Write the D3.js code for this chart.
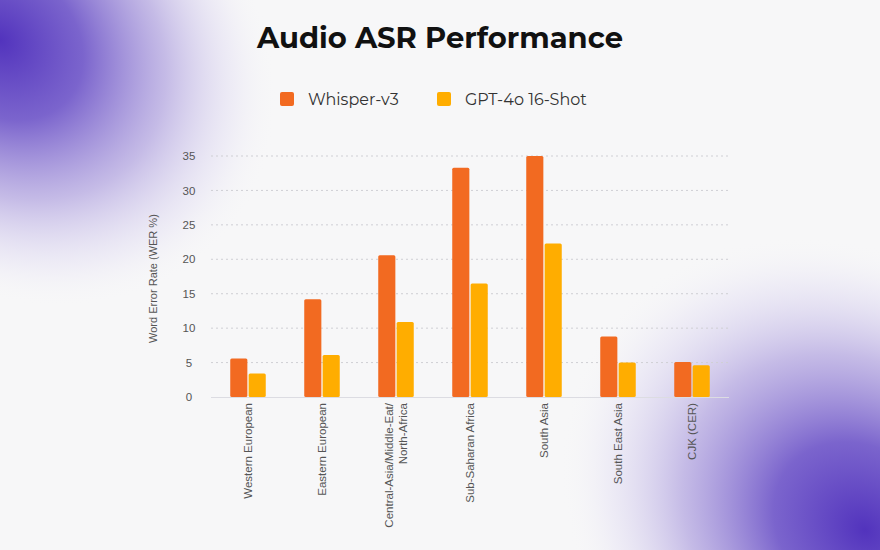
<!DOCTYPE html>
<html>
<head>
<meta charset="utf-8">
<script src="https://cdn.jsdelivr.net/npm/d3@7"></script>
<style>
  body { margin: 0; background: #f7f7f8; }
  svg { display: block; }
</style>
</head>
<body>
<div id="chart"></div>
<script>
// data
var regions = ["Western European", "Eastern European", "Central-Asia/Middle-Eat/\nNorth-Africa",
               "Sub-Saharan Africa", "South Asia", "South East Asia", "CJK (CER)"];
var seriesNames = ["Whisper-v3", "GPT-4o 16-Shot"];
var whisperValues = [5.6, 14.2, 20.6, 33.3, 35.0, 8.8, 5.1];
var gptValues = [3.4, 6.1, 10.9, 16.5, 22.3, 5.0, 4.6];
var yTicks = [0, 5, 10, 15, 20, 25, 30, 35];

var seriesColors = ["#f26a21", "#ffad00"];

var W = 880, H = 550;
var margin = {top: 156, right: 151, bottom: 153, left: 211},
    width = W - margin.left - margin.right,
    height = H - margin.top - margin.bottom;

var svg = d3.select("#chart")
  .append("svg")
    .attr("width", W)
    .attr("height", H);

// background glows
var defs = svg.append("defs");
function glow(id, cx, cy, r) {
  var gr = defs.append("radialGradient")
      .attr("id", id)
      .attr("gradientUnits", "userSpaceOnUse")
      .attr("cx", cx).attr("cy", cy).attr("r", r)
      .attr("gradientTransform", `translate(${cx},${cy}) rotate(40) scale(1,0.8) translate(${-cx},${-cy})`);
  gr.append("stop").attr("offset", 0).attr("stop-color", "#5233bd").attr("stop-opacity", 1);
  gr.append("stop").attr("offset", 0.3).attr("stop-color", "#6d54c8").attr("stop-opacity", 0.9);
  gr.append("stop").attr("offset", 0.6).attr("stop-color", "#9c8ad8").attr("stop-opacity", 0.55);
  gr.append("stop").attr("offset", 0.85).attr("stop-color", "#d6cff0").attr("stop-opacity", 0.25);
  gr.append("stop").attr("offset", 1).attr("stop-color", "#f7f7f8").attr("stop-opacity", 0);
}
glow("glowTL", 0, 40, 300);
glow("glowBR", 865, 530, 330);

svg.append("rect").attr("width", W).attr("height", H).attr("fill", "#f7f7f8");
svg.append("rect").attr("width", W).attr("height", H).attr("fill", "url(#glowTL)");
svg.append("rect").attr("width", W).attr("height", H).attr("fill", "url(#glowBR)");

// title
svg.append("text")
    .attr("x", 440)
    .attr("y", 48)
    .attr("text-anchor", "middle")
    .attr("font-family", "Montserrat, 'Open Sans', sans-serif")
    .attr("font-weight", 700)
    .attr("font-size", "29px")
    .attr("fill", "#111")
    .text("Audio ASR Performance");

// legend
var legendX = [280, 437];
var legend = svg.append("g")
  .selectAll("g")
  .data(seriesNames)
  .join("g")
    .attr("transform", (d, i) => `translate(${legendX[i]}, 92)`);
legend.append("rect")
    .attr("width", 14).attr("height", 14).attr("rx", 2)
    .attr("fill", (d, i) => seriesColors[i]);
legend.append("text")
    .attr("x", 28)
    .attr("y", 13)
    .attr("font-family", "Montserrat, 'Open Sans', sans-serif")
    .attr("font-size", "16px")
    .attr("fill", "#333")
    .text(d => d);

var g = svg.append("g")
    .attr("transform", `translate(${margin.left},${margin.top})`);

// scales
var x = d3.scaleBand()
    .domain(regions)
    .range([0, width])
    .paddingInner(0.52)
    .paddingOuter(0.26);

var xSub = d3.scaleBand()
    .domain(seriesNames)
    .range([0, x.bandwidth()])
    .paddingInner(0.07);

var y = d3.scaleLinear()
    .domain([0, 35])
    .range([height, 0]);

// grid
g.append("g")
  .selectAll("line")
  .data(yTicks.filter(d => d > 0))
  .join("line")
    .attr("x1", 0).attr("x2", width)
    .attr("y1", d => y(d)).attr("y2", d => y(d))
    .attr("stroke", "#cfcfd4")
    .attr("stroke-width", 1)
    .attr("stroke-dasharray", "2,3");

// y axis
var yAxis = g.append("g")
    .call(d3.axisLeft(y).tickValues(yTicks).tickSize(0).tickPadding(22));
yAxis.select(".domain").remove();
yAxis.selectAll("text")
    .attr("text-anchor", "middle")
    .attr("font-family", "'Liberation Sans', Arial, sans-serif")
    .attr("font-size", "11.5px")
    .attr("fill", "#555");

// y axis title
g.append("text")
    .attr("transform", `translate(-54, ${y(17.2)}) rotate(-90)`)
    .attr("text-anchor", "middle")
    .attr("font-family", "'Liberation Sans', Arial, sans-serif")
    .attr("font-size", "11px")
    .attr("fill", "#555")
    .text("Word Error Rate (WER %)");

// bars
var rows = regions.map((r, i) => ({region: r, values: [whisperValues[i], gptValues[i]]}));
g.append("g")
  .selectAll("g")
  .data(rows)
  .join("g")
    .attr("transform", d => `translate(${x(d.region)}, 0)`)
  .selectAll("rect")
  .data(d => seriesNames.map((s, i) => ({key: s, value: d.values[i], i: i})))
  .join("rect")
    .attr("x", d => xSub(d.key))
    .attr("y", d => y(d.value))
    .attr("width", xSub.bandwidth())
    .attr("height", d => height - y(d.value))
    .attr("rx", 1.5)
    .attr("fill", d => seriesColors[d.i]);

// baseline
g.append("line")
    .attr("x1", 0).attr("x2", width)
    .attr("y1", height + 0.5).attr("y2", height + 0.5)
    .attr("stroke", "#dcdce2");

// x labels, rotated
var xl = g.append("g")
  .selectAll("text")
  .data(regions)
  .join("text")
    .attr("transform", d => `translate(${x(d) + x.bandwidth() / 2}, ${height + 6}) rotate(-90)`)
    .attr("text-anchor", "end")
    .attr("font-family", "'Liberation Sans', Arial, sans-serif")
    .attr("font-size", "11.5px")
    .attr("fill", "#555");
xl.each(function(d) {
  var lines = d.split("\n");
  var t = d3.select(this);
  lines.forEach((ln, k) => {
    t.append("tspan")
      .attr("x", 0)
      .attr("y", (k - (lines.length - 1) / 2) * 14 + 4)
      .text(ln);
  });
});
</script>
</body>
</html>
